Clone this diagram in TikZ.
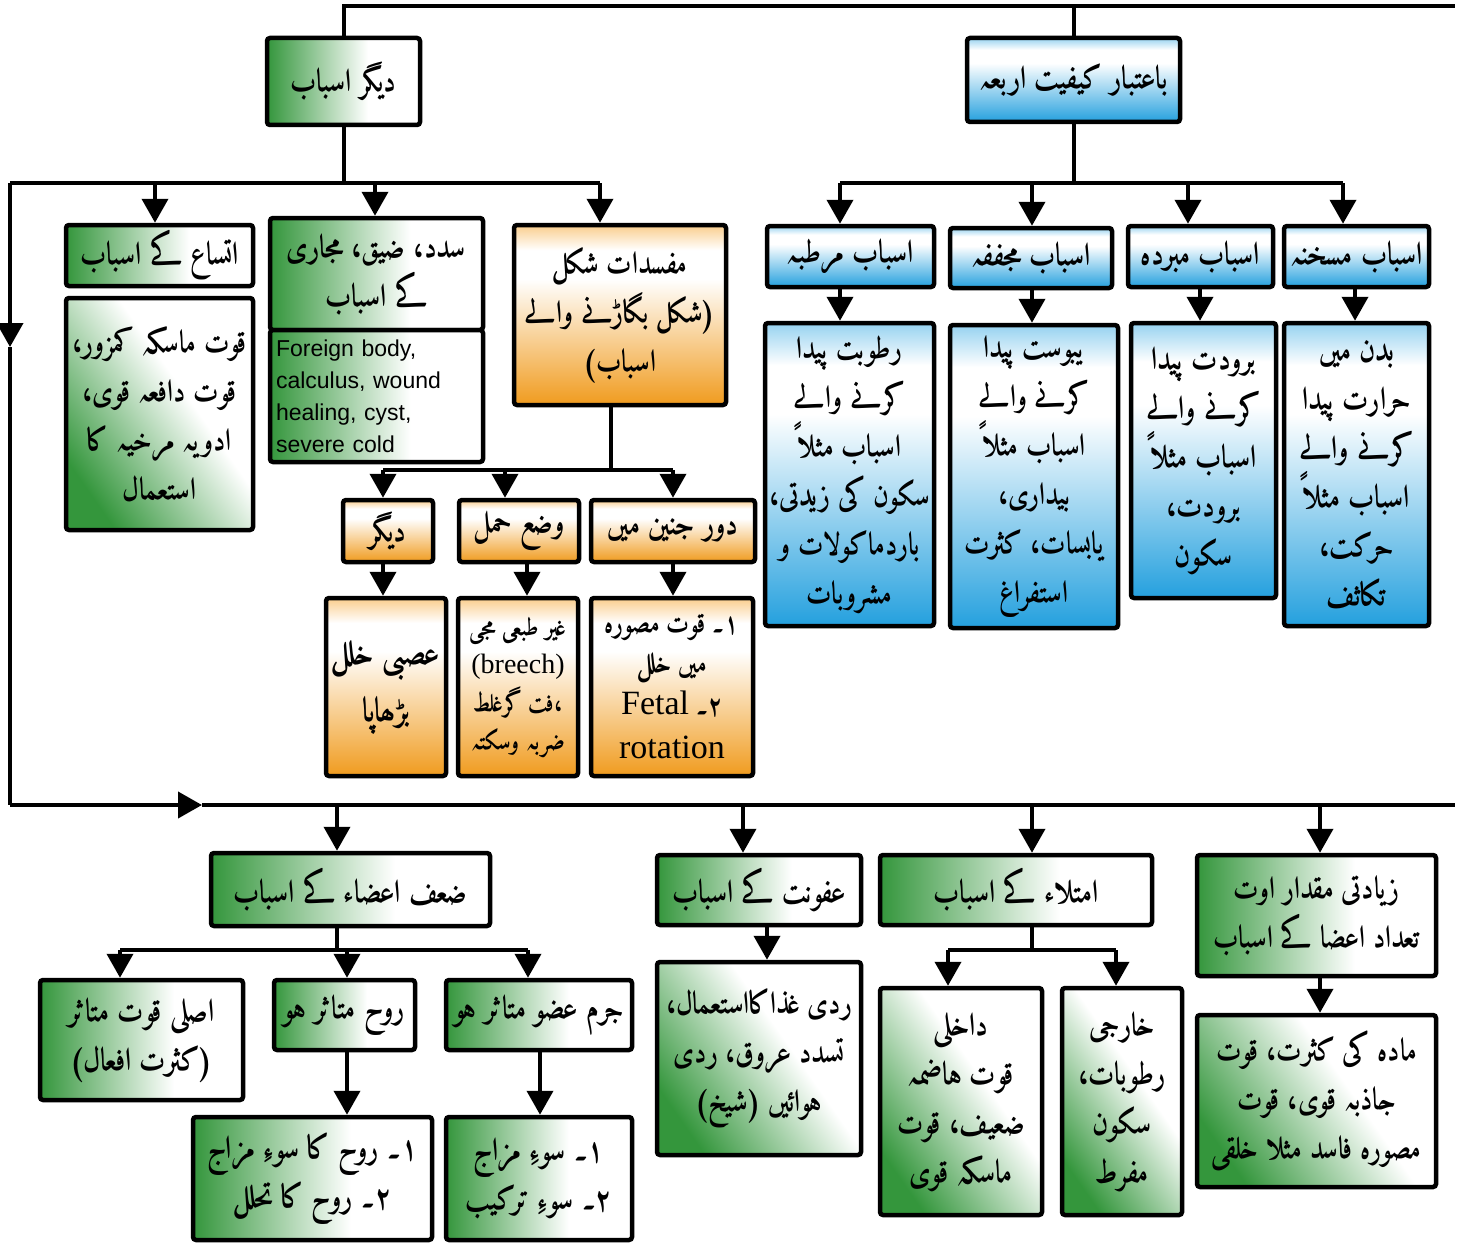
\documentclass[tikz,border=0pt]{standalone}
\usepackage{fontspec}
\setmainfont{Liberation Serif}
\IfFontExistsTF{amiri-bold.ttf}
  {\newfontfamily\urdu[Script=Arabic,FakeStretch=0.88]{amiri-bold.ttf}}
  {\IfFontExistsTF{amiri-regular.ttf}
    {\newfontfamily\urdu[Script=Arabic,FakeStretch=0.88]{amiri-regular.ttf}}
    {\newfontfamily\urdu[Script=Arabic]{DejaVu Sans}}}
\newfontfamily\arialf{Liberation Sans}
\TeXXeTstate=1
\usetikzlibrary{arrows.meta}
\definecolor{gdark}{RGB}{52,150,60}
\definecolor{bdark}{RGB}{36,160,222}
\definecolor{blight}{RGB}{150,210,240}
\definecolor{odark}{RGB}{240,155,30}
\definecolor{olight}{RGB}{250,205,140}
\pgfdeclarehorizontalshading{gshade}{100bp}{color(0bp)=(gdark); color(25bp)=(gdark); color(58bp)=(white); color(75bp)=(white); color(100bp)=(white)}
\pgfdeclareverticalshading{bshade}{100bp}{color(0bp)=(bdark); color(25bp)=(bdark); color(60bp)=(white); color(68bp)=(white); color(75bp)=(blight); color(100bp)=(blight)}
\pgfdeclareverticalshading{oshade}{100bp}{color(0bp)=(odark); color(25bp)=(odark); color(60bp)=(white); color(68bp)=(white); color(75bp)=(olight); color(100bp)=(olight)}
\newcommand\ur[1]{\beginR #1\endR}
\newcommand\bx[7]{\node[#2,minimum width={#5-#3},minimum height={#6-#4}] (#1) at ({(#3+#5)/2},{(#4+#6)/2}) {#7};}
\tikzset{
  fs/.style={font=\urdu\fontsize{#1}{49}\selectfont},
  box/.style={draw=black, line width=4.5pt, rounded corners=3pt, inner sep=1pt, align=center, fs=32},
  gbox/.style={box, shading=gshade},
  gtall/.style={box, shading=gshade, shading angle=35},
  bbox/.style={box, shading=bshade},
  obox/.style={box, shading=oshade},
  conn/.style={line width=4pt},
  arr/.style={conn, -{Triangle[width=26pt,length=24pt]}},
}
\begin{document}
\begin{tikzpicture}[x=1pt,y=-1pt]
\useasboundingbox (0,0) rectangle (1461,1244);

% ---------- top boxes
\bx{A}{gbox}{267}{38}{420}{125}{\ur{دیگر اسباب}}
\bx{B}{bbox}{967}{38}{1180}{122}{\ur{باعتبار کیفیت اربعہ}}

% ---------- left group
\bx{C}{gbox}{66}{225}{253}{286}{\ur{اتساع کے اسباب}}
\bx{C2}{gtall,fs=31}{66}{298}{253}{530}{\ur{قوت ماسکہ کمزور،}\\\ur{قوت دافعہ قوی،}\\\ur{ادویہ مرخیہ کا}\\\ur{استعمال}}
\bx{D1}{gbox}{270}{218}{483}{330}{\ur{سدد، ضیق، مجاری}\\\ur{کے اسباب}}
\node[gbox, minimum width=213, minimum height=132, text width=201pt, align=left,
  font=\arialf\fontsize{23}{32}\selectfont] (D2) at (376.5,396) {Foreign body,\\calculus, wound\\healing, cyst,\\severe cold};
\bx{E}{obox,fs=31}{514}{225}{726}{405}{\ur{مفسدات شکل}\\\ur{(شکل بگاڑنے والے}\\\ur{اسباب)}}
\bx{F1}{obox}{343}{500}{433}{562}{\ur{دیگر}}
\bx{F2}{obox}{459}{500}{579}{562}{\ur{وضع حمل}}
\bx{F3}{obox}{591}{500}{755}{562}{\ur{دور جنین میں}}
\bx{G1}{obox,fs=34}{326}{598}{446}{776}{\ur{عصبی خلل}\\[8pt]\ur{بڑھاپا}}
\node[obox, minimum width=120, minimum height=178, font=\urdu\fontsize{25}{38}\selectfont] (G2) at (518,687)
  {\ur{غیر طبعی مجی}\\{\rmfamily\fontsize{28}{38}\selectfont (breech)}\\\ur{،فت گرغلط}\\\ur{ضربہ وسکتہ}};
\node[obox, minimum width=162, minimum height=178, font=\urdu\fontsize{28}{40}\selectfont] (G3) at (672,687)
  {\ur{۱۔ قوت مصورہ}\\\ur{میں خلل}\\[2pt]\ur{۲۔ {\rmfamily\fontsize{34}{40}\selectfont Fetal}}\\[4pt]{\rmfamily\fontsize{34}{40}\selectfont rotation}};

% ---------- right (blue) group
\bx{H1}{bbox}{767}{226}{934}{287}{\ur{اسباب مرطبہ}}
\bx{H2}{bbox}{950}{228}{1112}{288}{\ur{اسباب مجففہ}}
\bx{H3}{bbox}{1128}{226}{1273}{287}{\ur{اسباب مبردہ}}
\bx{H4}{bbox}{1284}{226}{1429}{287}{\ur{اسباب مسخنہ}}
\bx{I1}{bbox,fs=31}{765}{323}{934}{626}{\ur{رطوبت پیدا}\\\ur{کرنے والے}\\\ur{اسباب مثلاً}\\\ur{سکون کی زیدتی،}\\\ur{باردماکولات و}\\\ur{مشروبات}}
\bx{I2}{bbox,fs=31}{950}{325}{1118}{628}{\ur{یبوست پیدا}\\\ur{کرنے والے}\\\ur{اسباب مثلاً}\\\ur{بیداری،}\\\ur{یابسات، کثرت}\\\ur{استفراغ}}
\bx{I3}{bbox}{1131}{323}{1276}{598}{\ur{برودت پیدا}\\\ur{کرنے والے}\\\ur{اسباب مثلاً}\\\ur{برودت،}\\\ur{سکون}}
\bx{I4}{bbox}{1284}{323}{1429}{626}{\ur{بدن میں}\\\ur{حرارت پیدا}\\\ur{کرنے والے}\\\ur{اسباب مثلاً}\\\ur{حرکت،}\\\ur{تکاثف}}

% ---------- bottom group
\bx{J1}{gbox}{211}{853}{490}{926}{\ur{ضعف اعضاء کے اسباب}}
\bx{K1}{gbox}{40}{980}{243}{1100}{\ur{اصلی قوت متاثر}\\\ur{(کثرت افعال)}}
\bx{K2}{gbox}{274}{980}{415}{1050}{\ur{روح متاثر ہو}}
\bx{K3}{gbox}{446}{980}{632}{1050}{\ur{جرم عضو متاثر ہو}}
\bx{L1}{gbox,fs=32}{193}{1117}{432}{1240}{\ur{۱۔ روح کا سوءِ مزاج}\\\ur{۲۔ روح کا تحلل}}
\bx{L2}{gbox,fs=32}{446}{1117}{632}{1240}{\ur{۱۔ سوءِ مزاج}\\\ur{۲۔ سوءِ ترکیب}}
\bx{J2}{gbox}{657}{855}{861}{925}{\ur{عفونت کے اسباب}}
\bx{J2b}{gtall,fs=31}{657}{962}{861}{1155}{\ur{ردی غذاکااستعمال،}\\\ur{تسدد عروق، ردی}\\\ur{ہوائیں (شیخ)}}
\bx{J3}{gbox}{880}{855}{1152}{925}{\ur{امتلاء کے اسباب}}
\bx{M1}{gtall}{880}{988}{1042}{1215}{\ur{داخلی}\\\ur{قوت ہاضمہ}\\\ur{ضعیف، قوت}\\\ur{ماسکہ قوی}}
\bx{M2}{gtall}{1062}{988}{1182}{1215}{\ur{خارجی}\\\ur{رطوبات،}\\\ur{سکون}\\\ur{مفرط}}
\bx{J4}{gbox,fs=31}{1197}{855}{1436}{976}{\ur{زیادتی مقدار اوت}\\\ur{تعداد اعضا کے اسباب}}
\bx{J4b}{gtall,fs=31}{1197}{1015}{1436}{1187}{\ur{مادہ کی کثرت، قوت}\\\ur{جاذبہ قوی، قوت}\\\ur{مصورہ فاسد مثلا خلقی}}

% ---------- bus coordinates
\coordinate (topR) at (1455,6);
\coordinate (lb) at (10,183);
\coordinate (lbE) at (600,183);
\coordinate (lm) at (10,347);
\coordinate (bl) at (10,805);
\coordinate (bm) at (202,805);
\coordinate (br) at (1455,805);
\coordinate (xC) at (155,183);
\coordinate (xD) at (375,183);
\coordinate (rbL) at (840,183);
\coordinate (rbR) at (1343,183);
\coordinate (h2x) at (1032,183);
\coordinate (h3x) at (1188,183);
\coordinate (i3x) at (1200,183);
\coordinate (i4x) at (1355,183);
\coordinate (eb) at (611,470);
\coordinate (fbL) at (383,470);
\coordinate (fbR) at (673,470);
\coordinate (f2x) at (505,470);
\coordinate (g2x) at (527,470);
\coordinate (d1) at (337,805);
\coordinate (d2) at (743,805);
\coordinate (d3) at (1032,805);
\coordinate (d4) at (1320,805);
\coordinate (kbL) at (120,950);
\coordinate (kbM) at (347,950);
\coordinate (kbR) at (528,950);
\coordinate (l2x) at (540,950);
\coordinate (j2x) at (767,930);
\coordinate (mbL) at (948,950);
\coordinate (mbR) at (1116,950);

% ---------- connectors: top
\draw[conn] (A.north) -- (A.north |- topR) -- (topR);
\draw[conn] (B.north) -- (B.north |- topR);

% left branch
\draw[conn] (A.south) -- (A.south |- lb);
\draw[conn] (lb) -- (lbE);
\draw[arr] (xC) -- (xC |- C.north);
\draw[arr] (xD) -- (xD |- D1.north);
\draw[arr] (lbE) -- (lbE |- E.north);
\draw[arr] (lb) -- (lm);
\draw[conn] (lm) -- (bl);
\draw[arr] (bl) -- (bm);
\draw[conn] (bm) -- (br);

% E subtree
\draw[conn] (eb |- E.south) -- (eb);
\draw[conn] (fbL) -- (fbR);
\draw[arr] (fbL) -- (fbL |- F1.north);
\draw[arr] (f2x) -- (f2x |- F2.north);
\draw[arr] (fbR) -- (fbR |- F3.north);
\draw[arr] (fbL |- F1.south) -- (fbL |- G1.north);
\draw[arr] (g2x |- F2.south) -- (g2x |- G2.north);
\draw[arr] (fbR |- F3.south) -- (fbR |- G3.north);

% right branch
\draw[conn] (B.south) -- (B.south |- rbL);
\draw[conn] (rbL) -- (rbR);
\draw[arr] (rbL) -- (rbL |- H1.north);
\draw[arr] (h2x) -- (h2x |- H2.north);
\draw[arr] (h3x) -- (h3x |- H3.north);
\draw[arr] (rbR) -- (rbR |- H4.north);
\draw[arr] (rbL |- H1.south) -- (rbL |- I1.north);
\draw[arr] (h2x |- H2.south) -- (h2x |- I2.north);
\draw[arr] (i3x |- H3.south) -- (i3x |- I3.north);
\draw[arr] (i4x |- H4.south) -- (i4x |- I4.north);

% bottom branch
\draw[arr] (d1) -- (d1 |- J1.north);
\draw[arr] (d2) -- (d2 |- J2.north);
\draw[arr] (d3) -- (d3 |- J3.north);
\draw[arr] (d4) -- (d4 |- J4.north);

\draw[conn] (d1 |- J1.south) -- (d1 |- kbL);
\draw[conn] (kbL) -- (kbR);
\draw[arr] (kbL) -- (kbL |- K1.north);
\draw[arr] (kbM) -- (kbM |- K2.north);
\draw[arr] (kbR) -- (kbR |- K3.north);
\draw[arr] (kbM |- K2.south) -- (kbM |- L1.north);
\draw[arr] (l2x |- K3.south) -- (l2x |- L2.north);

\draw[arr] (j2x |- J2.south) -- (j2x |- J2b.north);

\draw[conn] (d3 |- J3.south) -- (d3 |- mbL);
\draw[conn] (mbL) -- (mbR);
\draw[arr] (mbL) -- (mbL |- M1.north);
\draw[arr] (mbR) -- (mbR |- M2.north);

\draw[arr] (d4 |- J4.south) -- (d4 |- J4b.north);
\end{tikzpicture}
\end{document}
